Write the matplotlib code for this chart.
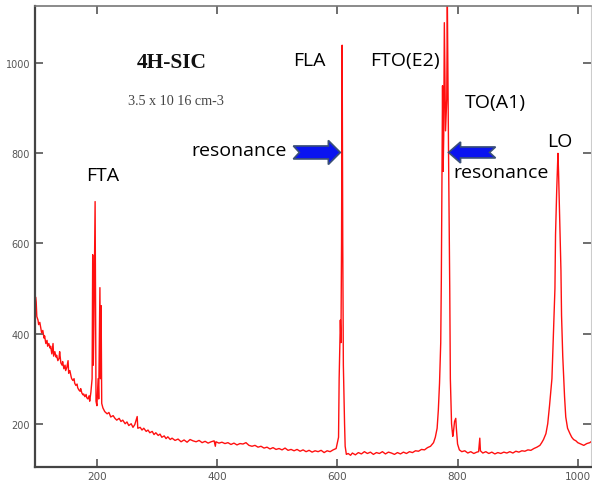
import numpy as np
import matplotlib
matplotlib.use("Agg")
import matplotlib.pyplot as plt
from matplotlib.patches import Polygon
from matplotlib.transforms import IdentityTransform

# Raman spectrum of 4H-SiC (wavenumber cm-1, intensity)
wavenumber = [
    98.3, 99, 100, 102, 103, 105, 107, 108, 110, 112, 113, 115, 117, 118, 120, 122,
    123, 125, 127, 128, 130, 132, 133, 135, 137, 138, 140, 142, 143, 145, 147, 148,
    150, 152, 153, 155, 157, 158, 160, 162, 163, 165, 167, 168, 170, 172, 173, 175,
    177, 178, 180, 182, 183, 185, 187, 188, 190, 192, 193, 194, 195, 197, 198, 198.5,
    200, 202, 203, 205, 206, 207, 208, 210, 212,
    213, 217, 220, 223, 227, 230, 233, 237, 240, 243, 247, 250, 253, 257, 260, 263,
    267, 268, 272, 275, 278, 282, 285, 288, 292, 295, 298, 302, 305, 308, 312, 315,
    318, 322, 325, 330, 335, 340, 345, 350, 355, 360, 365, 370, 375, 380, 385, 390,
    395, 397, 398, 403, 408, 413, 418, 423, 428, 433, 438, 443, 448, 453, 458, 463,
    468, 473, 478, 483, 488, 493, 498, 503, 508, 513, 518, 523, 528, 533, 538, 543,
    548, 553, 558, 563, 568, 573, 578, 583, 588, 593, 598, 602, 603, 605, 606, 607,
    608, 609, 610, 612, 613, 615, 618, 622, 625,
    630, 635, 640, 645, 650, 655, 660, 665, 670, 675, 680, 685, 690, 695, 700, 705,
    710, 715, 720, 725, 730, 735, 740, 745, 750, 755, 760, 763, 766, 768, 770, 772,
    773, 775, 776, 777, 778, 780, 782, 783, 785, 787, 788, 790, 792, 793, 795, 797,
    798, 800, 803, 807, 812, 817, 822, 827, 832, 835, 837, 838, 842, 847, 852, 857,
    862, 867, 872, 877, 882, 887, 892, 897, 902, 907, 912, 917, 922, 927, 932, 937,
    940, 943, 947, 950, 953, 957, 959, 962, 963, 965, 967, 968, 970, 972, 973, 975,
    978, 980, 983, 987, 990, 993, 997, 1000, 1005, 1010, 1015, 1020, 1022,
]
intensity = [
    480, 470, 438, 430, 420, 425, 410, 402, 407, 390, 395, 378, 385, 372, 378, 368,
    372, 355, 378, 350, 360, 348, 352, 340, 345, 360, 335, 330, 338, 322, 330, 318,
    325, 340, 312, 318, 305, 300, 296, 300, 290, 285, 288, 280, 275, 272, 278, 268,
    264, 266, 260, 265, 258, 255, 262, 250, 270, 300, 575, 330, 420, 693, 400, 250,
    240, 300, 255, 502, 300, 462, 245, 235, 230,
    227, 222, 225, 215, 218, 212, 208, 212, 205, 208, 200, 204, 196, 200, 192, 198,
    216, 190, 192, 186, 190, 183, 186, 180, 183, 176, 180, 174, 177, 170, 173, 167,
    171, 165, 168, 163, 166, 160, 164, 159, 165, 162, 160, 163, 158, 161, 157, 160,
    162, 150, 160, 157, 159, 156, 158, 154, 157, 153, 156, 155, 158, 152, 150, 152,
    148, 150, 146, 148, 144, 147, 143, 145, 142, 146, 141, 143, 140, 143, 139, 142,
    138, 141, 137, 140, 138, 141, 136, 140, 138, 142, 145, 170, 300, 430, 380, 600,
    1040, 600, 330, 200, 150, 132, 134, 130, 135,
    131, 136, 133, 138, 134, 137, 132, 136, 134, 138, 133, 137, 135, 132, 136, 133,
    137, 134, 138, 136, 140, 139, 143, 142, 147, 150, 158, 170, 190, 230, 290, 380,
    520, 950, 760, 840, 1090, 850, 920, 1140, 800, 500, 300, 200, 172, 180, 205, 212,
    190, 155, 142, 138, 140, 135, 138, 134, 137, 138, 168, 140, 135, 138, 134, 137,
    133, 136, 134, 137, 135, 138, 135, 139, 137, 140, 139, 142, 141, 145, 148, 152,
    158, 165, 178, 200, 240, 300, 380, 500, 620, 720, 800, 760, 650, 540, 440, 350,
    260, 215, 190, 178, 170, 165, 162, 158, 155, 152, 156, 158, 160,
]

x_ticks = [200, 400, 600, 800, 1000]
y_ticks = [200, 400, 600, 800, 1000]

# peak labels: (text, x, y)
peak_labels = [
    ("FTA", 210, 753),
    ("FLA", 553, 1007),
    ("FTO(E2)", 713, 1007),
    ("TO(A1)", 863, 913),
    ("LO", 970, 827),
    ("resonance", 437, 807),
    ("resonance", 872, 758),
]

fig = plt.figure(figsize=(5.92, 4.89), dpi=100)
ax = fig.add_axes([35 / 592, 21 / 489, 556 / 592, 461 / 489])

ax.plot(wavenumber, intensity, color="#ff1010", lw=1.0)
ax.set_xlim(97, 1022)
ax.set_ylim(104, 1127)

ax.set_xticks(x_ticks)
ax.set_yticks(y_ticks)
ax.tick_params(direction="in", length=6, width=1.2, color="#555555",
               top=True, right=True, labelsize=7, labelcolor="#555555")
for lab in ax.get_xticklabels() + ax.get_yticklabels():
    lab.set_family(["Liberation Sans Narrow", "DejaVu Sans"])
ax.tick_params(axis="x", labelsize=7.5, pad=3)

ax.spines["left"].set_color("#444444")
ax.spines["left"].set_linewidth(1.6)
ax.spines["bottom"].set_color("#444444")
ax.spines["bottom"].set_linewidth(1.6)
ax.spines["top"].set_color("#777777")
ax.spines["top"].set_linewidth(1.2)
ax.spines["right"].set_color("#cccccc")
ax.spines["right"].set_linewidth(0.8)

ax.text(325, 1002, "4H-SIC", family="Liberation Serif", weight="bold",
        fontsize=15.5, ha="center", va="center", color="#111111")
ax.text(332, 918, "3.5 x 10 16 cm-3", family="Liberation Serif",
        fontsize=10.2, ha="center", va="center", color="#444444")

for txt, xx, yy in peak_labels:
    ax.text(xx, yy, txt, family="Open Sans", fontsize=14, ha="center", va="center",
            color="black")


def block_arrow(tip, length, head_len, head_h, shaft_h, notch, direction):
    # notched block arrow, sizes in pixels, tip in data coordinates
    fig.canvas.draw()
    tx, ty = ax.transData.transform(tip)
    d = direction
    pts = [(0, 0), (-head_len, head_h / 2), (-head_len, shaft_h / 2),
           (-length, shaft_h / 2), (-length + notch, 0),
           (-length, -shaft_h / 2), (-head_len, -shaft_h / 2),
           (-head_len, -head_h / 2)]
    pts = [(tx + d * px, ty + py) for px, py in pts]
    poly = Polygon(pts, closed=True, facecolor="#0a14f0", edgecolor="#3a5078",
                   lw=1.2, transform=IdentityTransform(), zorder=5)
    fig.patches.append(poly)
    poly.set_figure(fig)


block_arrow((605, 802), 47, 12, 24, 13, 6, 1)
block_arrow((785, 802), 47, 12, 21, 11, 6, -1)

fig.savefig("out.png", dpi=100)
